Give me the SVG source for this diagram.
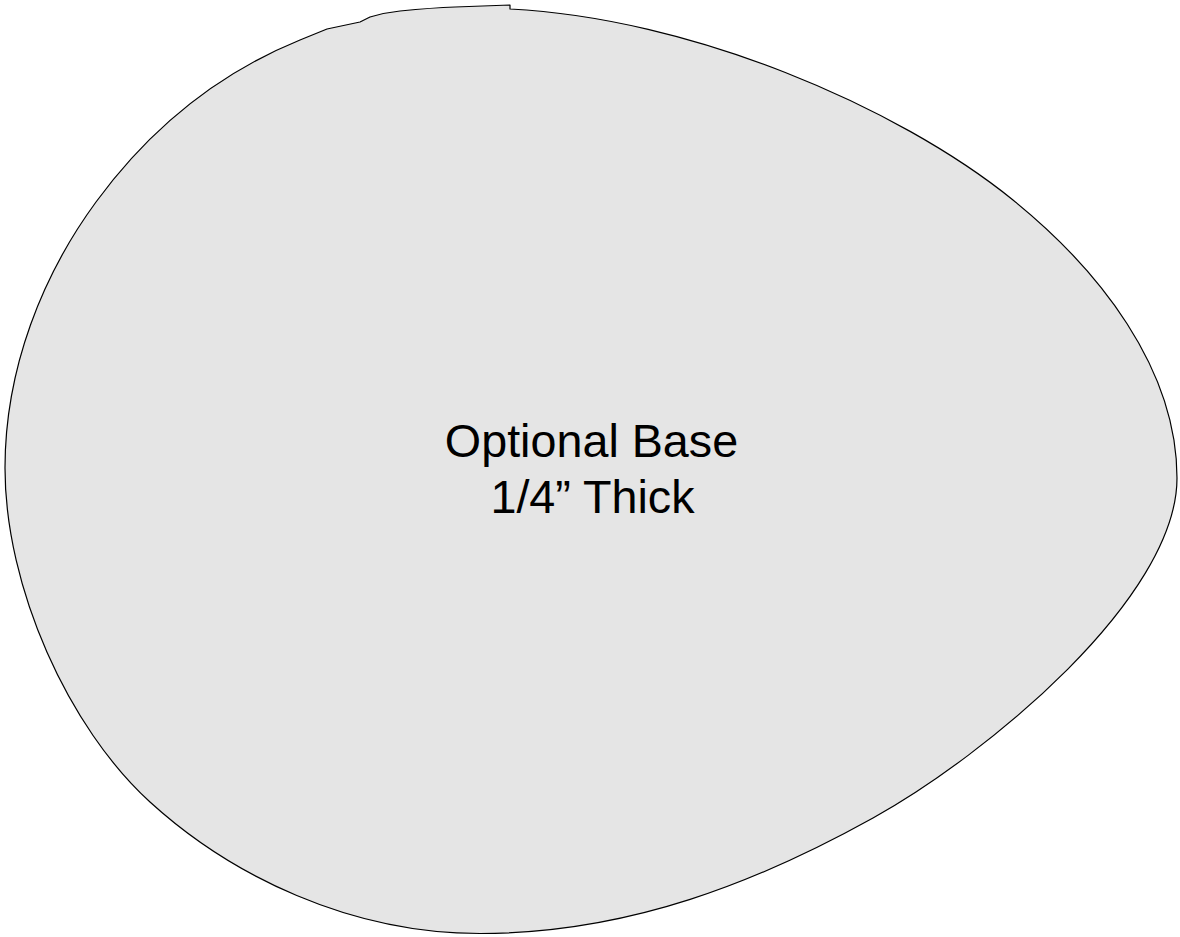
<svg xmlns="http://www.w3.org/2000/svg" width="1180" height="937" viewBox="0 0 1180 937">
<style>
.base{fill:#e5e5e5;stroke:#000;stroke-width:1.2;stroke-linejoin:round}
.lbl{font-family:"Liberation Sans",Arial,sans-serif;font-size:46.7px;fill:#000;text-anchor:middle}
</style>
<rect width="1180" height="937" fill="#fff"/>
<g id="base">
<path class="base" d="M510,9 C690,18 896.5,105.7 1013,200 C1098.5,269.2 1177,368 1177,478 C1177,598 986.6,754.9 873,818 C759.4,881.1 630,933.5 480,933.5 C350,933.5 231.3,876 150,802 C68.7,728 5,588 5,468 C5,368 42.8,274.6 96,202 C149.2,129.4 216.7,73.9 300,40 L327,29 L360,22 L370,17 C380,14 390,12 400,11 C420,9 440,7.5 455,7 C475,6.3 495,5.5 510,5 Z"/>
<text class="lbl" x="591.5" y="457">Optional Base</text>
<text class="lbl" x="592.5" y="513">1/4” Thick</text>
</g>
</svg>
